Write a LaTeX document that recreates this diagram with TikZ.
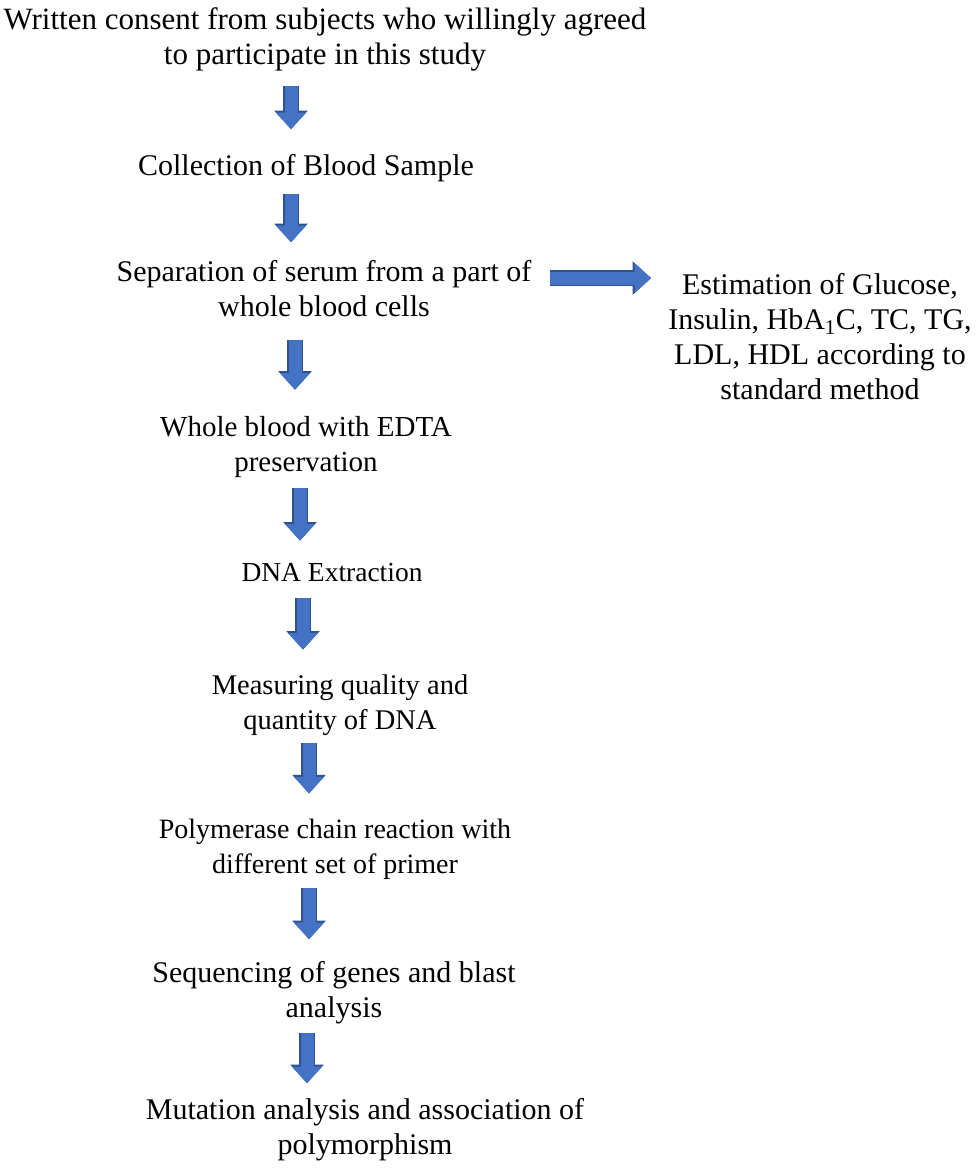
\documentclass[tikz,border=0pt]{standalone}
\usepackage{fontspec}
\setmainfont{Liberation Serif}
\usetikzlibrary{arrows.meta, positioning}
\definecolor{flowblue}{HTML}{4472C4}
\definecolor{flowedge}{HTML}{2F528F}

\begin{document}
\begin{tikzpicture}[
    x=1pt, y=-1pt,
    stage/.style={align=center, inner sep=0pt, anchor=base, font=\fontsize{#1}{35}\selectfont},
    flow/.style={line width=13pt, flowblue, -{Triangle[width=30pt, length=16.5pt, line width=0pt]},
        preaction={draw=flowedge, line width=15.5pt, -{Triangle[width=33.5pt, length=18.5pt, line width=0pt]}}}
]
\useasboundingbox (0,0) rectangle (975,1174);

% base anchor = last line
\node[stage=31] (consent) at (325,65) {Written consent from subjects who willingly agreed\\to participate in this study};
\node[stage=30] (blood) at (306,176) {Collection of Blood Sample};
\node[stage=30] (serum) at (324,316) {Separation of serum from a part of\\whole blood cells};
\node[stage=30] (estimation) at (820,399) {Estimation of Glucose,\\Insulin, HbA\textsubscript{1}C, TC, TG,\\LDL, HDL according to\\standard method};
\node[stage=29] (edta) at (306,471) {Whole blood with EDTA\\preservation};
\node[stage=27.5] (dna) at (332,581) {DNA Extraction};
\node[stage=28.5] (quality) at (340,729) {Measuring quality and\\quantity of DNA};
\node[stage=28] (pcr) at (335,873) {Polymerase chain reaction with\\different set of primer};
\node[stage=30] (seq) at (334,1017) {Sequencing of genes and blast\\analysis};
\node[stage=30] (mutation) at (365,1154) {Mutation analysis and association of\\polymorphism};

\draw[flow, shorten <=14pt, shorten >=25.5pt] ([xshift=-34pt]consent.south) -- ([xshift=-15pt]blood.north);
\draw[flow, shorten <=11.5pt, shorten >=17.5pt] ([xshift=-15pt]blood.south) -- ([xshift=-33pt]serum.north);
\draw[flow, shorten <=18pt, shorten >=17pt] ([yshift=10pt]serum.east) -- ([yshift=10pt]serum.east -| estimation.west);
\draw[flow, shorten <=23.5pt, shorten >=26pt] ([xshift=-29pt]serum.south) -- ([xshift=-11pt]edta.north);
\draw[flow, shorten <=10.5pt, shorten >=22pt] ([xshift=-6pt]edta.south) -- ([xshift=-32pt]dna.north);
\draw[flow, shorten <=16.5pt, shorten >=24.5pt] ([xshift=-29pt]dna.south) -- ([xshift=-37pt]quality.north);
\draw[flow, shorten <=8pt, shorten >=25pt] ([xshift=-31pt]quality.south) -- ([xshift=-26pt]pcr.north);
\draw[flow, shorten <=9pt, shorten >=21.5pt] ([xshift=-26pt]pcr.south) -- ([xshift=-25pt]seq.north);
\draw[flow, shorten <=9.5pt, shorten >=14.5pt] ([xshift=-27pt]seq.south) -- ([xshift=-58pt]mutation.north);

\end{tikzpicture}
\end{document}
